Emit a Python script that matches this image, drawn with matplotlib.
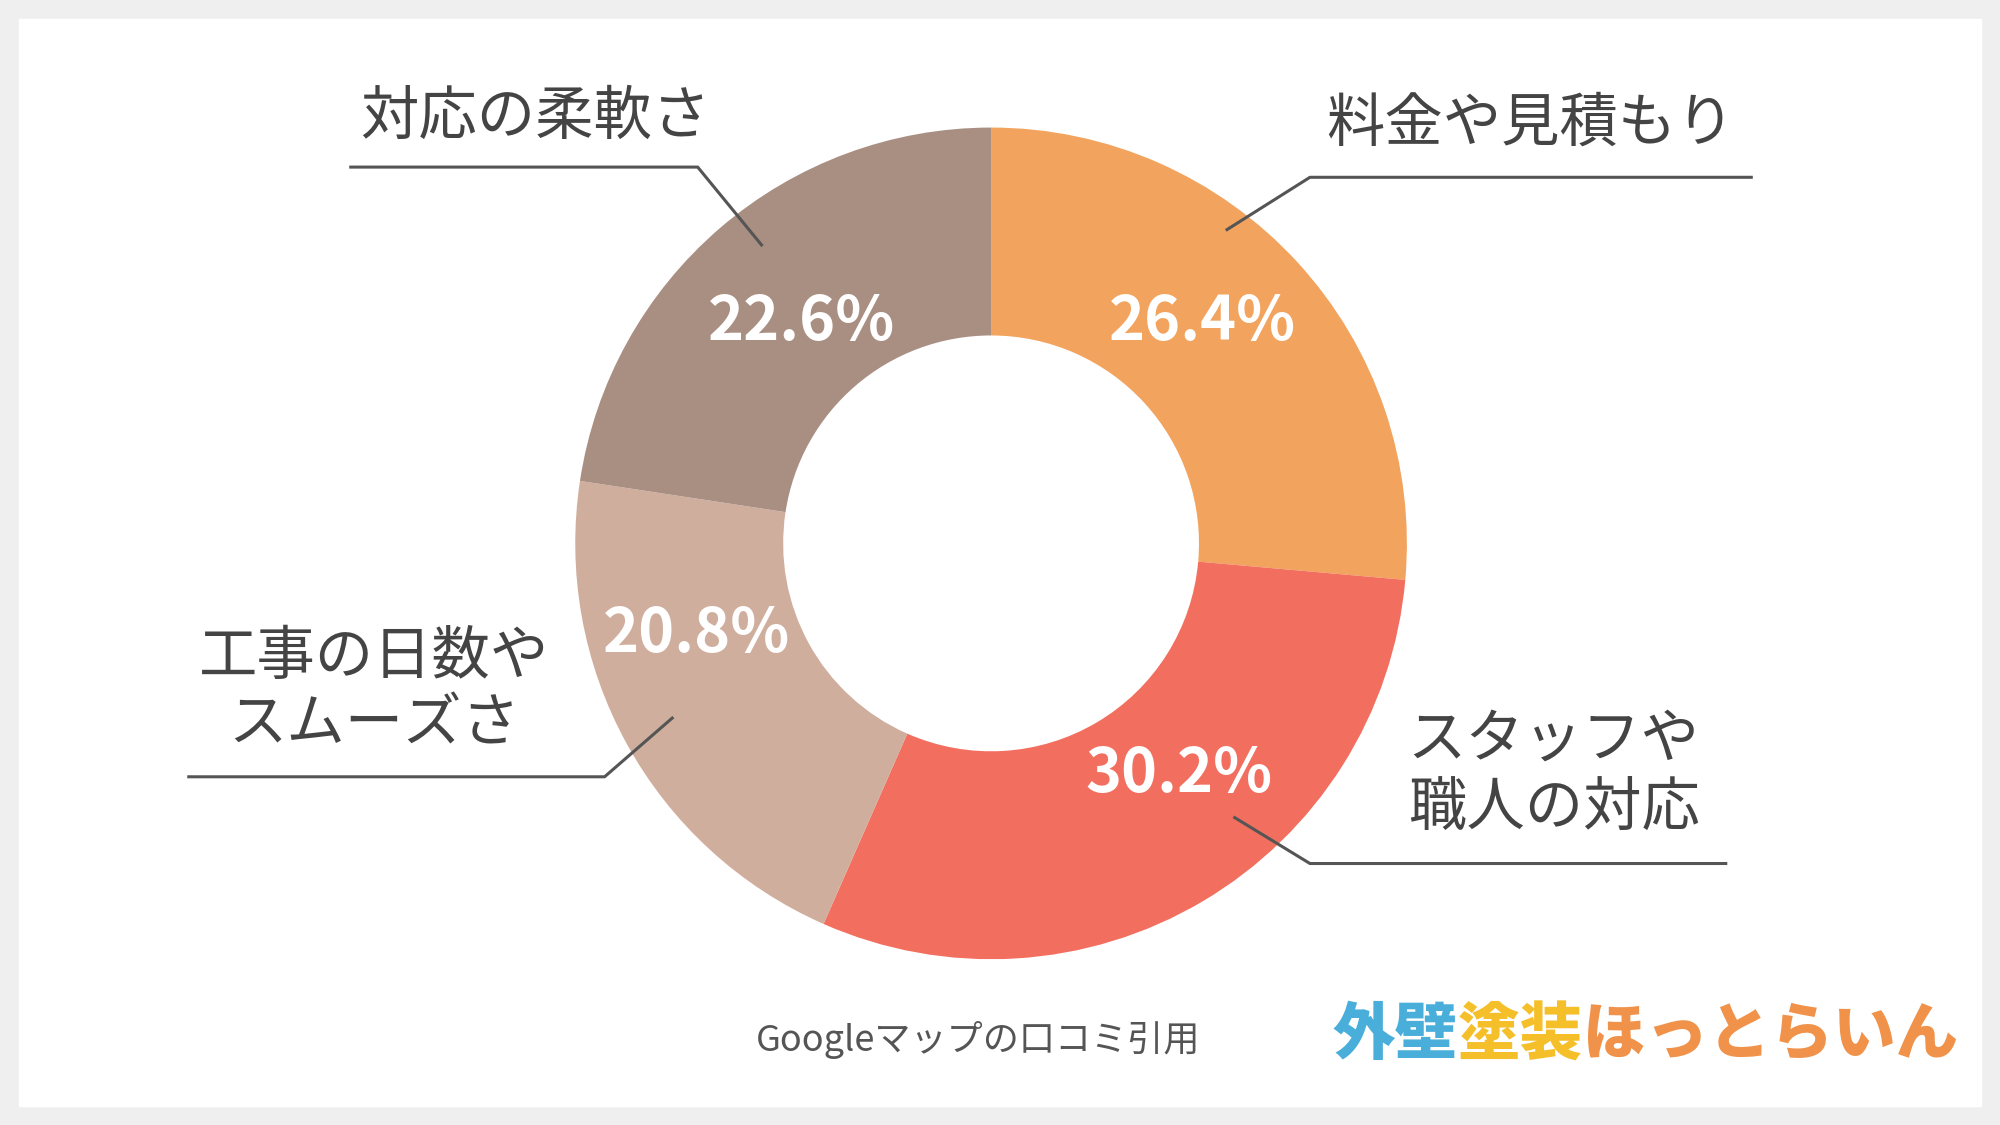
import matplotlib
matplotlib.use("Agg")
import matplotlib.pyplot as plt
from matplotlib.patches import Rectangle

categories = ["料金や見積もり", "スタッフや\n職人の対応", "工事の日数や\nスムーズさ", "対応の柔軟さ"]
values = [26.4, 30.2, 20.8, 22.6]
colors = ["#F2A35D", "#F26F5F", "#D0AE9D", "#A98E82"]

S = 2000 / 1568
def P(x, y):
    return x * S, 1125 - y * S

fig = plt.figure(figsize=(20, 11.25), dpi=100)
fig.patch.set_facecolor("#EFEFEF")
ax = fig.add_axes([0, 0, 1, 1])
ax.set_xlim(0, 2000); ax.set_ylim(0, 1125); ax.axis("off")
ax.add_patch(Rectangle(P(15, 867), 1538 * S, 852 * S, color="white", zorder=0))

cx, cy = P(777, 426)
R = 326 * S
ax.pie(values, colors=colors, startangle=90, counterclock=False, center=(cx, cy), radius=R,
       wedgeprops=dict(width=R * 0.5, linewidth=0), frame=True)
ax.set_xlim(0, 2000); ax.set_ylim(0, 1125); ax.axis("off"); ax.set_aspect("equal")

font = "Noto Sans CJK JP"
pct_pos = [(943, 253), (924, 607), (546, 497), (628, 253)]
for v, (x, y) in zip(values, pct_pos):
    ax.text(*P(x, y), f"{v}%", ha="center", va="center", color="white", fontsize=44,
            fontweight="bold", fontfamily=font)

lines = [[(962, 180), (1027, 139), (1373, 139)],
         [(968, 641), (1027, 677), (1353, 677)],
         [(527, 563), (474, 609), (148, 609)],
         [(597, 192), (547, 131), (275, 131)]]
for ln in lines:
    pts = [P(*p) for p in ln]
    ax.plot([p[0] for p in pts], [p[1] for p in pts], color="#555555", lw=2.2)

lab_pos = [(1200, 97), (1218, 607), (293, 542), (420, 92)]
for c, (x, y) in zip(categories, lab_pos):
    ax.text(*P(x, y), c, ha="center", va="center", color="#444444", fontsize=42,
            fontfamily=font, linespacing=1.15)

ax.text(*P(767, 815), "Googleマップの口コミ引用", ha="center", va="center", color="#555555",
        fontsize=26, fontfamily=font)

logo = [("外壁", "#4AAEDA"), ("塗装", "#F5BF2A"), ("ほっとらいん", "#F0924A")]
x0, y0 = P(1045, 812)
t = None
for s, col in logo:
    if t is None:
        t = ax.text(x0, y0, s, ha="left", va="center", color=col, fontsize=45,
                    fontweight="black", fontfamily=font)
    else:
        t = ax.annotate(s, xycoords=t, xy=(1, 0.5), va="center", ha="left", color=col,
                        fontsize=45, fontweight="black", fontfamily=font)

fig.savefig("out.png", dpi=100, facecolor=fig.get_facecolor())
